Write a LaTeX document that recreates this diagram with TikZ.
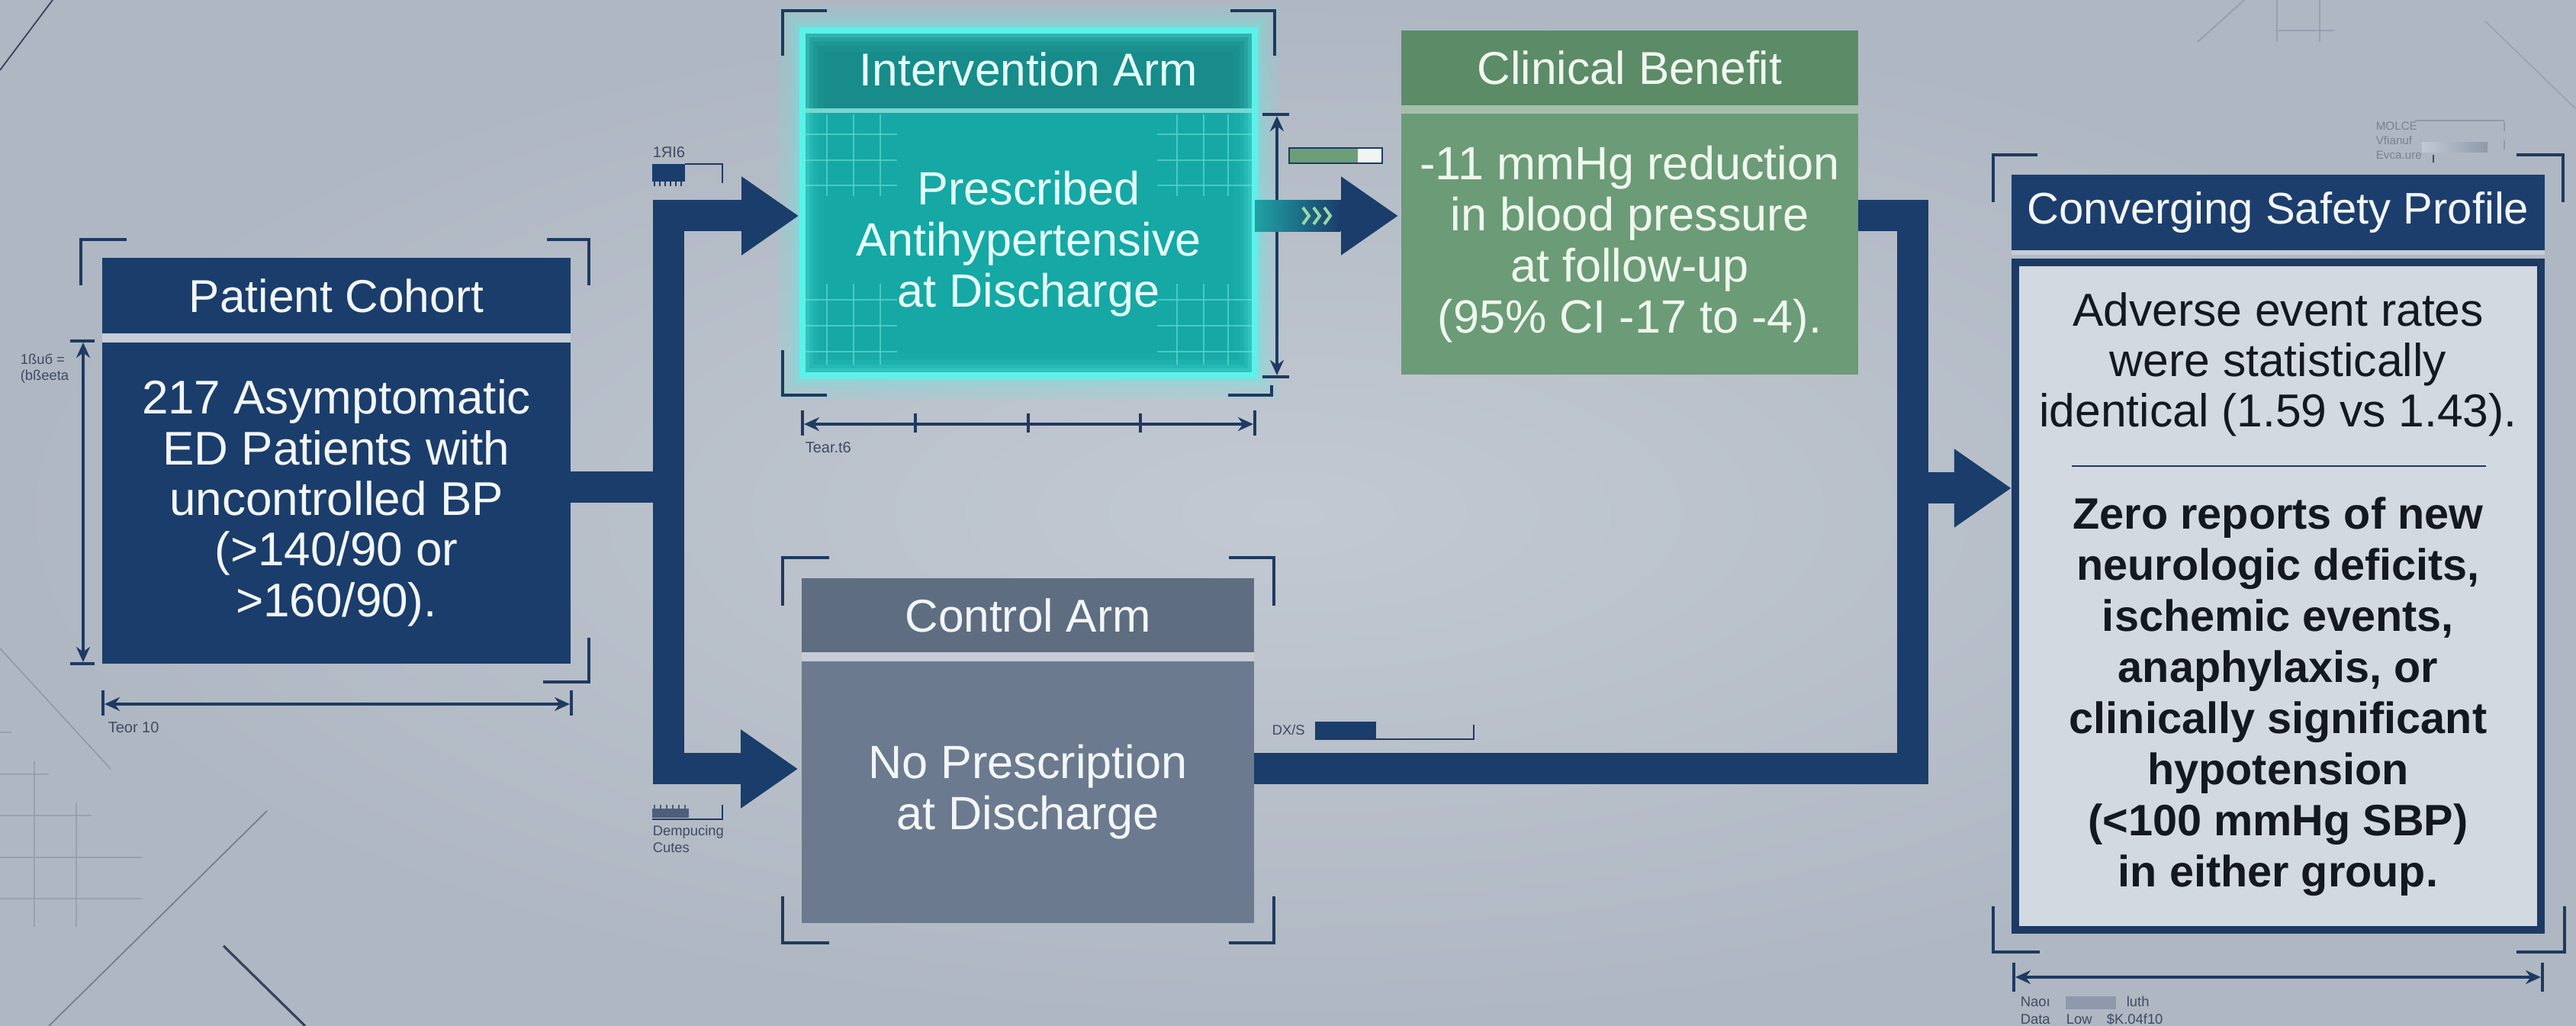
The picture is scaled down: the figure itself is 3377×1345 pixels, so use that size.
\documentclass[tikz,border=0pt]{standalone}
\usepackage{fontspec}
\setmainfont{Liberation Sans}
\usetikzlibrary{arrows.meta,calc}
\definecolor{navy}{HTML}{1A3D6B}
\definecolor{brk}{HTML}{1E3A60}
\definecolor{dimc}{HTML}{1F3A62}
\definecolor{decoc}{HTML}{97A2B1}
\definecolor{decodark}{HTML}{34445E}
\definecolor{tinyc}{HTML}{3E4B60}
\definecolor{bginner}{HTML}{C2C9D2}
\definecolor{bgouter}{HTML}{AFB7C2}
\definecolor{gapc}{HTML}{C6CDD6}
\definecolor{ihead}{HTML}{178C8A}
\definecolor{ibody}{HTML}{15A8A5}
\definecolor{igap}{HTML}{78D6CF}
\definecolor{glowc}{HTML}{5CF2EA}
\definecolor{gridc}{HTML}{55D2CB}
\definecolor{chead}{HTML}{5C8B68}
\definecolor{cbody}{HTML}{6B9B77}
\definecolor{cgap}{HTML}{A6BFAD}
\definecolor{khead}{HTML}{5E6D80}
\definecolor{kbody}{HTML}{6B7A8E}
\definecolor{shead}{HTML}{1C3E6D}
\definecolor{sbody}{HTML}{D3D9E0}
\definecolor{sborder}{HTML}{1C3A64}
\definecolor{txtw}{HTML}{F3F6F9}
\definecolor{itxt}{HTML}{E6FFFA}
\definecolor{ctxt}{HTML}{F0F8EE}
\definecolor{stxt}{HTML}{14181F}
\definecolor{tealbar}{HTML}{1FA3A3}
\definecolor{chev}{HTML}{9AD6A6}
\definecolor{ggreen}{HTML}{6E9E78}
\definecolor{ggrey}{HTML}{4F5F7A}
\definecolor{lgrey}{HTML}{8E9AAB}
\tikzset{
  fat/.style={draw=navy, line width=10.25pt, line join=miter},
  fatarrow/.style={fat, -{Triangle[length=18.75pt,width=24.5pt]}},
  bracket/.style={draw=brk, line width=1.1pt},
  dimarrow/.style={draw=dimc, line width=0.8pt, {Stealth[length=5pt,width=4.5pt]}-{Stealth[length=5pt,width=4.5pt]}},
  dimtick/.style={draw=dimc, line width=0.8pt},
  tinylbl/.style={inner sep=0pt, anchor=west, text=tinyc, font=\fontsize{4.6}{5.4}\selectfont, align=left},
  deco/.style={draw=decoc, line width=0.55pt},
  panel/.style={inner sep=0pt, outer sep=0pt, align=center},
  headfont/.style={font=\fontsize{15.1}{17}\selectfont},
  bodyfont/.style={font=\fontsize{15.3}{16.75}\selectfont},
  gridline/.style={draw=gridc, line width=0.45pt, opacity=0.8},
}
\begin{document}
\begin{tikzpicture}[x=0.25pt,y=-0.25pt]
\useasboundingbox (0,0) rectangle (3377,1345);
\shade[inner color=bginner, outer color=bgouter] (0,0) rectangle (3377,1345);

% ---------- background decorations ----------
\draw[draw=decodark, line width=0.45pt] (0,92) -- (69,0);
\draw[draw=lgrey, line width=0.4pt] (0,850) -- (145,1008);
\draw[deco] (0,960) -- (15,960);
\draw[deco] (45,998) -- (45,1215);
\draw[deco] (100,1052) -- (100,1215);
\draw[deco] (0,1015) -- (64,1015);
\draw[deco] (0,1069) -- (120,1069);
\draw[deco] (0,1124) -- (186,1124);
\draw[deco] (0,1178) -- (186,1178);
\draw[draw=lgrey!70!decodark, line width=0.45pt] (350,1063) -- (64,1345);
\draw[draw=decodark, line width=0.8pt] (293,1240) -- (400,1345);
\draw[deco] (2881,55) -- (2942,0);
\draw[deco] (2985,0) -- (2985,55);
\draw[deco] (3041,0) -- (3041,55);
\draw[deco] (2983,40) -- (3060,40);
\draw[draw=decoc, line width=0.4pt] (3257,27) -- (3377,143);

% ---------- Patient Cohort ----------
\node[panel, fill=navy, minimum width=153.5pt, minimum height=24.75pt, text=txtw, headfont] (cohorthead) at (441,387.5) {Patient Cohort};
\node[panel, fill=navy, minimum width=153.5pt, minimum height=105.25pt, text=txtw, font=\fontsize{15.5}{16.6}\selectfont] (cohortbody) at (441,659.5) {217 Asymptomatic\\ED Patients with\\uncontrolled BP\\(>140/90 or\\>160/90).};
\fill[gapc] (cohorthead.south west) rectangle (cohortbody.north east);
\draw[bracket] (106,374) -- (106,314) -- (166,314);
\draw[bracket] (717,314) -- (772,314) -- (772,374);
\draw[bracket] (772,836) -- (772,894) -- (712,894);
\draw[dimarrow] (109,449) -- (109,868);
\draw[dimtick] (92,447) -- (124,447);
\draw[dimtick] (92,870) -- (124,870);
\node[tinylbl] (cohortvlbl) at (26,483) {1ßuб =\\(bßeeta};
\draw[dimarrow] (137,923) -- (747,923);
\draw[dimtick] (135,905) -- (135,938);
\draw[dimtick] (749,905) -- (749,938);
\node[tinylbl, font=\fontsize{5}{6}\selectfont] (cohorthlbl) at (141,954) {Teor 10};

% ---------- Intervention Arm ----------
\fill[glowc, opacity=0.10] (1020,8) rectangle (1677,524);
\node[panel, fill=ihead, minimum width=148.25pt, minimum height=25.5pt, text=itxt, headfont] (intervhead) at (1348.5,91) {Intervention Arm};
\node[panel, fill=ibody, minimum width=148.25pt, minimum height=86pt, text=itxt, bodyfont] (intervbody) at (1348.5,320) {Prescribed\\Antihypertensive\\at Discharge};
\fill[igap] (intervhead.south west) rectangle (intervbody.north east);
% corner grids
\foreach \gx in {1084,1119,1154} {\draw[gridline] (\gx,150) -- (\gx,257); \draw[gridline] (\gx,372) -- (\gx,478);}
\foreach \gx in {1543,1578,1610} {\draw[gridline] (\gx,150) -- (\gx,257); \draw[gridline] (\gx,372) -- (\gx,478);}
\foreach \gy in {176,210,243,393,427,461} {\draw[gridline] (1056,\gy) -- (1176,\gy); \draw[gridline] (1517,\gy) -- (1641,\gy);}
% glow frame
\foreach \w/\o in {14/0.05,10/0.08,7/0.13,4.5/0.22} {\draw[glowc, line width=\w pt, opacity=\o] (intervhead.north west) rectangle (intervbody.south east);}
\draw[glowc, line width=1.8pt] (intervhead.north west) rectangle (intervbody.south east);
\draw[bracket] (1026,73) -- (1026,14) -- (1084,14);
\draw[bracket] (1613,14) -- (1671,14) -- (1671,73);
\draw[bracket] (1026,459) -- (1026,518) -- (1084,518);
\draw[bracket] (1610,518) -- (1667,518) -- (1667,505);
\draw[dimarrow] (1674,152) -- (1674,492);
\draw[dimtick] (1655,150) -- (1690,150);
\draw[dimtick] (1655,494) -- (1690,494);
\draw[dimarrow] (1054,556) -- (1643,556);
\draw[dimtick] (1052,538) -- (1052,571);
\draw[dimtick] (1645,538) -- (1645,571);
\foreach \tx in {1200,1348,1495} {\draw[dimtick] (\tx,542) -- (\tx,567);}
\node[tinylbl, font=\fontsize{5}{6}\selectfont] (intervhlbl) at (1055,587) {Tear.t6};

% ---------- Clinical Benefit ----------
\node[panel, fill=chead, minimum width=149.75pt, minimum height=24.5pt, text=ctxt, headfont] (clinhead) at (2136.5,89) {Clinical Benefit};
\node[panel, fill=cbody, minimum width=149.75pt, minimum height=85.5pt, text=ctxt, bodyfont] (clinbody) at (2136.5,320) {-11 mmHg reduction\\in blood pressure\\at follow-up\\(95\% CI -17 to -4).};
\fill[cgap] (clinhead.south west) rectangle (clinbody.north east);

% ---------- Control Arm ----------
\node[panel, fill=khead, minimum width=148.25pt, minimum height=24.25pt, text=txtw, headfont] (ctrlhead) at (1347.5,806.5) {Control Arm};
\node[panel, fill=kbody, minimum width=148.25pt, minimum height=85.75pt, text=txtw, bodyfont] (ctrlbody) at (1347.5,1038.5) {No Prescription\\at Discharge};
\fill[gapc] (ctrlhead.south west) rectangle (ctrlbody.north east);
\draw[bracket] (1026,794) -- (1026,731) -- (1087,731);
\draw[bracket] (1611,731) -- (1670,731) -- (1670,794);
\draw[bracket] (1026,1175) -- (1026,1236) -- (1087,1236);
\draw[bracket] (1611,1236) -- (1670,1236) -- (1670,1175);

% ---------- Converging Safety Profile ----------
\node[panel, fill=shead, minimum width=174.75pt, minimum height=24.75pt, text=txtw, font=\fontsize{14.5}{17}\selectfont] (safehead) at (2986.5,278.5) {Converging Safety Profile};
\node[panel, fill=sbody, draw=sborder, line width=2.5pt, minimum width=172.25pt, minimum height=218.75pt] (safebody) at (2986.5,781.5) {};
\fill[gapc] (2637,328) rectangle (3336,334);
\node[panel, text=stxt, font=\fontsize{15.15}{16.5}\selectfont] (safeA) at (2986.5,478) {Adverse event rates\\were statistically\\identical (1.59 vs 1.43).};
\draw[draw=sborder, line width=0.5pt] (2716,611) -- (3259,611);
\node[panel, text=stxt, font=\fontsize{14.4}{16.75}\selectfont\bfseries] (safeB) at (2986.5,913) {Zero reports of new\\neurologic deficits,\\ischemic events,\\anaphylaxis, or\\clinically significant\\hypotension\\(<100 mmHg SBP)\\in either group.};
\draw[bracket] (2613,265) -- (2613,203) -- (2671,203);
\draw[bracket] (3299,203) -- (3360,203) -- (3360,265);
\draw[bracket] (2613,1188) -- (2613,1248) -- (2674,1248);
\draw[bracket] (3299,1248) -- (3362,1248) -- (3362,1188);
\draw[dimarrow] (2642,1281) -- (3331,1281);
\draw[dimtick] (2640,1262) -- (2640,1300);
\draw[dimtick] (3333,1262) -- (3333,1300);
\fill[lgrey] (2708,1306) rectangle (2774,1323);
\node[tinylbl] (slbl1) at (2648,1313) {Naoı};
\node[tinylbl] (slbl2) at (2648,1336) {Data};
\node[tinylbl] (slbl3) at (2787,1313) {luth};
\node[tinylbl] (slbl4) at (2708,1336) {Low};
\node[tinylbl] (slbl5) at (2761,1336) {\$K.04f10};
% top-right mini legend
\draw[draw=lgrey, line width=0.3pt] (3166,158) -- (3283,158);
\shade[left color=bginner, right color=lgrey] (3175,187) rectangle (3261,200);
\draw[draw=lgrey, line width=0.6pt, dashed] (3283,160) -- (3283,200);
\draw[draw=tinyc, line width=0.6pt] (3190,203) -- (3190,213);
\node[tinylbl, font=\fontsize{3.8}{4.75}\selectfont, text=tinyc!70] (tlegend) at (3114,184) {MOLCE\\Vfianuf\\Evca.ure};

% ---------- connectors ----------
\coordinate (split) at (876,639);
\coordinate (rowA) at (0,283);
\coordinate (rowB) at (0,1008);
\coordinate (merge) at (2507,640);
\draw[fat] (cohortbody.east |- split) -- (split);
\draw[fatarrow, shorten >=1.2pt] (split) |- (intervbody.west |- rowA);
\draw[fatarrow, shorten >=1.2pt] (split) |- (ctrlbody.west |- rowB);
\draw[fatarrow, shorten >=1pt] (intervbody.east |- rowA) -- (clinbody.west |- rowA);
\shade[left color=tealbar, right color=navy] ($(intervbody.east |- rowA)+(0,-20.5)$) rectangle ($(intervbody.east |- rowA)+(112,20.5)$);
\foreach \cx in {1716,1730,1744} {\draw[chev, line width=1pt] (\cx-8,272) -- (\cx,283) -- (\cx-8,294);}
\draw[fat] (clinbody.east |- rowA) -| (merge);
\draw[fat] (ctrlbody.east |- rowB) -| (merge);
\draw[fatarrow, shorten >=1.3pt] (merge) -- (safebody.west |- merge);

% ---------- small gauges ----------
\node[tinylbl, font=\fontsize{5}{6}\selectfont] (g1lbl) at (855,200) {1ЯI6};
\fill[navy] (855,215) rectangle (898,238);
\draw[dimtick, line width=0.5pt] (898,215) -- (947,215) -- (947,240);
\foreach \tx in {858,865,872,879,886,893} {\draw[draw=navy, line width=0.4pt] (\tx,238) -- (\tx,244);}
\fill[ggrey] (855,1060) rectangle (903,1072);
\draw[dimtick, line width=0.5pt] (855,1074) -- (947,1074) -- (947,1055);
\foreach \tx in {858,866,874,882,890,898} {\draw[draw=ggrey, line width=0.4pt] (\tx,1055) -- (\tx,1060);}
\node[tinylbl] (g2lbl) at (855,1100) {Dempucing\\Cutes};
\node[tinylbl] (g3lbl) at (1667,957) {DX/S};
\fill[navy] (1724,946) rectangle (1804,969);
\draw[dimtick, line width=0.5pt] (1724,969) -- (1932,969) -- (1932,950);
\fill[ggreen] (1690,194) rectangle (1780,214);
\fill[white!90!ggreen] (1780,194) rectangle (1812,214);
\draw[draw=navy, line width=0.5pt] (1690,194) rectangle (1812,214);
\end{tikzpicture}
\end{document}
